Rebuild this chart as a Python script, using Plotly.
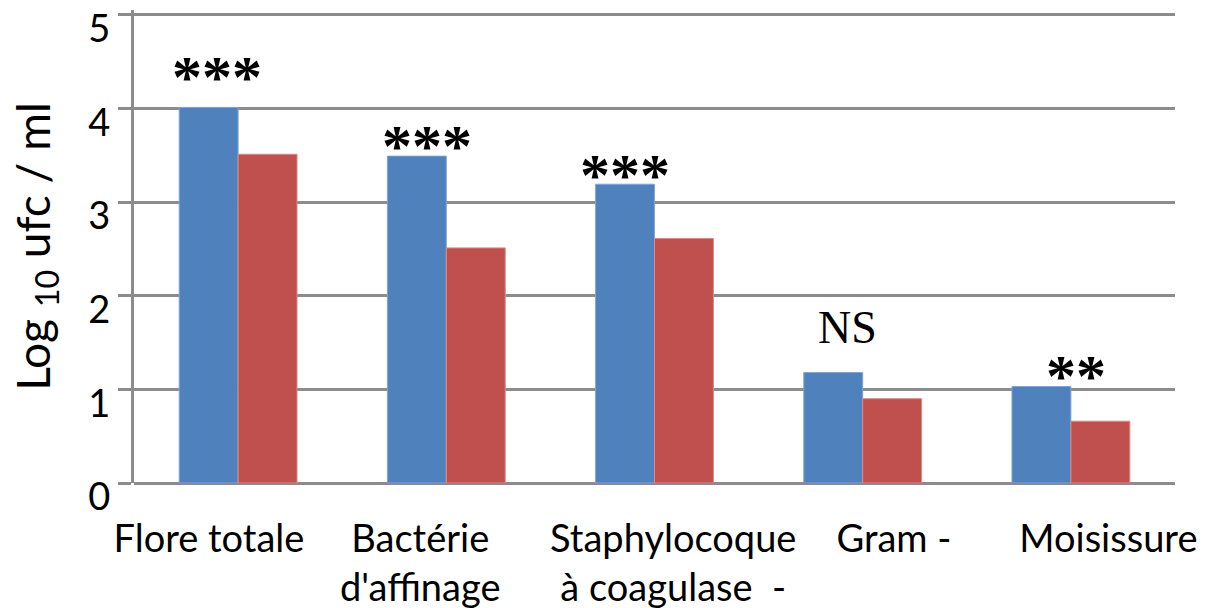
import plotly.graph_objects as go

categories = ["Flore totale", "Bactérie<br>d'affinage", "Staphylocoque<br>à coagulase  -", "Gram -", "Moisissure"]
series_blue = [4.01, 3.49, 3.19, 1.18, 1.03]
series_red = [3.51, 2.51, 2.61, 0.90, 0.66]
signif_labels = ["***", "***", "***", "NS", "**"]
y_ticks = [0, 1, 2, 3, 4, 5]

# label placement (layout only)
label_pos = [-0.14, 0.875, 2.09, 3.15, 4.18]
sig_dx = [-0.103, -0.094, -0.144, -0.072, 0.026]
sig_y = [4.40, 3.66, 3.35, 1.66, 1.21]

x_idx = list(range(len(categories)))

fig = go.Figure()
fig.add_trace(go.Bar(x=x_idx, y=series_blue, marker=dict(color="#4F81BD", line=dict(width=1, color="#7FA6D6"))))
fig.add_trace(go.Bar(x=x_idx, y=series_red, marker=dict(color="#C0504D", line=dict(width=1, color="#D98A88"))))

for i, lab in enumerate(signif_labels):
    is_ns = lab == "NS"
    fig.add_annotation(
        x=x_idx[i] + sig_dx[i], y=sig_y[i], text=lab if is_ns else "<b>" + lab + "</b>", showarrow=False,
        xanchor="center", yanchor="middle", yshift=0 if is_ns else -6,
        font=dict(family="Liberation Serif", size=46 if is_ns else 60, color="black"),
    )

fig.update_layout(
    width=1208, height=608,
    margin=dict(l=134, r=33, t=10, b=125, autoexpand=False),
    plot_bgcolor="white", paper_bgcolor="white",
    showlegend=False,
    barmode="group", bargap=0.434, bargroupgap=0,
    font=dict(family="Lato", size=38, color="black"),
    xaxis=dict(
        range=[-0.5, 4.5], tickmode="array", tickvals=label_pos, ticktext=categories,
        showgrid=False, zeroline=False, showline=False, ticks="",
        tickfont=dict(family="Lato", size=38, color="black"),
        ticklabelstandoff=30, automargin=False,
    ),
    yaxis=dict(
        range=[0, 5.05], tickmode="array", tickvals=y_ticks,
        showgrid=True, gridcolor="#8C8C8C", gridwidth=3,
        zeroline=True, zerolinecolor="#8C8C8C", zerolinewidth=3,
        showline=True, linecolor="#8C8C8C", linewidth=3,
        ticks="outside", ticklen=13, tickwidth=3, tickcolor="#8C8C8C",
        tickfont=dict(family="Lato", size=38, color="black"),
        ticklabelshift=14, ticklabeloverflow="allow",
        automargin=False,
        title=dict(text="Log <sub>10</sub> ufc / ml", font=dict(family="Lato", size=46, color="black"), standoff=24),
    ),
)

fig.write_html("out.html")
